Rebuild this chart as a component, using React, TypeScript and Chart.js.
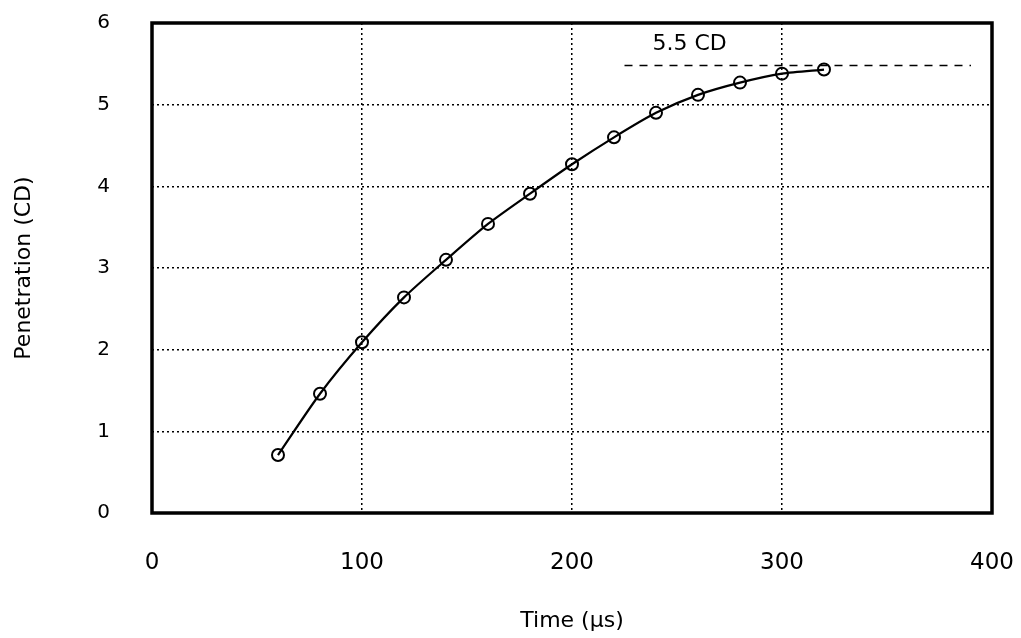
import React, { useEffect, useRef } from "react";
import { Chart, registerables } from "chart.js";

Chart.register(...registerables);

const times = [60, 80, 100, 120, 140, 160, 180, 200, 220, 240, 260, 280, 300, 320];
const penetration = [0.71, 1.46, 2.09, 2.64, 3.1, 3.54, 3.91, 4.27, 4.6, 4.9, 5.12, 5.27, 5.38, 5.43];
const refLineX = [225, 390];
const refLineY = [5.48, 5.48];
const refLabel = "5.5 CD";
const refLabelX = 256;
const refLabelY = 5.74;
const xTicks = [0, 100, 200, 300, 400];
const yTicks = [0, 1, 2, 3, 4, 5, 6];
const xTitle = "Time (\u00b5s)";
const yTitle = "Penetration (CD)";

const FONT = "'DejaVu Sans', sans-serif";

export default function App() {
  const ref = useRef<HTMLCanvasElement | null>(null);
  useEffect(() => {
    if (!ref.current) return;
    const framePlugin = {
      id: "frame",
      beforeDatasetsDraw(chart: any) {
        const { ctx, chartArea: a } = chart;
        ctx.save();
        ctx.strokeStyle = "#000";
        ctx.lineWidth = 3.5;
        ctx.strokeRect(a.left, a.top, a.right - a.left, a.bottom - a.top);
        ctx.restore();
      },
      afterDatasetsDraw(chart: any) {
        const { ctx } = chart;
        const xs = chart.scales.x;
        const ys = chart.scales.y;
        ctx.save();
        ctx.fillStyle = "#000";
        ctx.font = `22px ${FONT}`;
        ctx.textAlign = "center";
        ctx.textBaseline = "middle";
        ctx.fillText(refLabel, xs.getPixelForValue(refLabelX), ys.getPixelForValue(refLabelY));
        ctx.restore();
      },
    };
    const zeroPad = (s: any) => {
      s.paddingTop = 0;
      s.paddingBottom = 0;
      s.paddingLeft = 0;
      s.paddingRight = 0;
    };
    const chart = new Chart(ref.current, {
      type: "line",
      data: {
        datasets: [
          {
            data: times.map((t, i) => ({ x: t, y: penetration[i] })),
            borderColor: "#000",
            borderWidth: 2.2,
            tension: 0.25,
            pointRadius: 6,
            pointBorderWidth: 2,
            pointBorderColor: "#000",
            pointBackgroundColor: "rgba(0,0,0,0)",
            fill: false,
          },
          {
            data: refLineX.map((x, i) => ({ x, y: refLineY[i] })),
            borderColor: "#000",
            borderWidth: 1.5,
            borderDash: [8, 7],
            pointRadius: 0,
            fill: false,
          },
        ],
      },
      options: {
        animation: false,
        responsive: false,
        maintainAspectRatio: false,
        layout: { padding: { top: 23, right: 29, left: 0, bottom: 0 } },
        plugins: { legend: { display: false }, tooltip: { enabled: false } },
        scales: {
          x: {
            type: "linear",
            min: 0,
            max: 400,
            afterBuildTicks: (s: any) => {
              s.ticks = xTicks.map((v) => ({ value: v }));
            },
            afterFit: (s: any) => {
              s.height = 125;
              zeroPad(s);
            },
            ticks: {
              color: "#000",
              font: { family: FONT, size: 23 },
              padding: 36,
              maxRotation: 0,
            },
            grid: { color: "#000", lineWidth: 1.5, drawTicks: false },
            border: { display: false, dash: [2, 3] },
            title: {
              display: true,
              text: xTitle,
              color: "#000",
              font: { family: FONT, size: 22 },
              padding: { top: 0, bottom: 4 },
            },
          },
          y: {
            type: "linear",
            min: 0,
            max: 6,
            afterBuildTicks: (s: any) => {
              s.ticks = yTicks.map((v) => ({ value: v }));
            },
            afterFit: (s: any) => {
              s.width = 152;
              zeroPad(s);
            },
            ticks: {
              color: "#000",
              font: { family: FONT, size: 20 },
              padding: 42,
            },
            grid: { color: "#000", lineWidth: 1.5, drawTicks: false },
            border: { display: false, dash: [2, 3] },
            title: {
              display: true,
              text: yTitle,
              color: "#000",
              font: { family: FONT, size: 22 },
              padding: { top: 11, bottom: 0 },
            },
          },
        },
      },
      plugins: [framePlugin],
    });
    return () => chart.destroy();
  }, []);
  return (
    <div style={{ position: "fixed", left: 0, top: 0, width: 1021, height: 638, background: "#fff" }}>
      <canvas ref={ref} width={1021} height={638} />
    </div>
  );
}
